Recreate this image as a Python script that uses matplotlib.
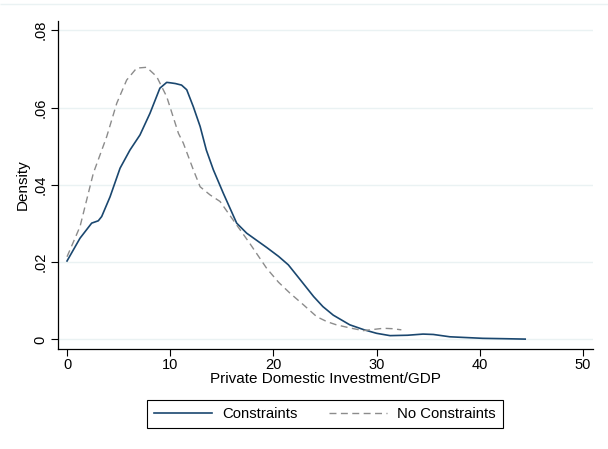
import matplotlib.pyplot as plt
from matplotlib.patches import Rectangle

plt.rcParams['font.family'] = ['Liberation Sans', 'DejaVu Sans']

# Density estimates
x_con = [0.0, 1.26, 2.39, 3.03, 3.36, 4.17, 5.14, 6.1, 7.07, 8.04, 9.0, 9.66,
         9.98, 10.5, 11.1, 11.6, 12.24, 12.9, 13.5, 14.18, 15.15, 16.44, 17.41,
         18.3, 19.35, 20.5, 21.45, 22.5, 23.9, 24.8, 25.8, 27.4, 28.8, 30.0,
         31.3, 33.0, 34.5, 35.5, 37.1, 40.3, 42.5, 44.4]
y_con = [0.0203, 0.0262, 0.0301, 0.0307, 0.0318, 0.0369, 0.0443, 0.049, 0.0529,
         0.0585, 0.065, 0.0665, 0.0664, 0.0662, 0.0658, 0.0646, 0.0602, 0.0551,
         0.049, 0.0439, 0.0378, 0.0301, 0.0275, 0.0258, 0.0238, 0.0215, 0.0193,
         0.0158, 0.0111, 0.0085, 0.0063, 0.0038, 0.0025, 0.0016, 0.001, 0.0011,
         0.0014, 0.0013, 0.0007, 0.0003, 0.0002, 0.0001]

x_nocon = [0.0, 1.26, 2.55, 3.85, 4.82, 5.78, 6.75, 7.72, 8.69, 9.66, 10.8,
           11.27, 12.24, 12.9, 13.86, 14.83, 16.1, 17.7, 19.35, 20.5, 21.6,
           22.9, 24.2, 25.2, 26.1, 27.4, 28.7, 29.7, 30.65, 31.5, 32.4]
y_nocon = [0.0214, 0.0292, 0.043, 0.0525, 0.0611, 0.0671, 0.0702, 0.0704, 0.068,
           0.0628, 0.0533, 0.0508, 0.0439, 0.0395, 0.0374, 0.0357, 0.0309, 0.0249,
           0.0184, 0.0148, 0.012, 0.009, 0.0059, 0.0046, 0.0038, 0.003, 0.0023,
           0.0026, 0.0029, 0.0028, 0.0025]

xticks = [0, 10, 20, 30, 40, 50]
yticks = [0, 0.02, 0.04, 0.06, 0.08]
ytick_labels = ['0', '.02', '.04', '.06', '.08']

fig = plt.figure(figsize=(6.08, 4.49), dpi=100)
ax = fig.add_axes([0.0946, 0.2227, 0.8807, 0.7316])

ax.plot(x_con, y_con, color='#1a476f', lw=1.2, label='Constraints')
ax.plot(x_nocon, y_nocon, color='#8c8c8c', lw=1.0, dashes=(5, 3.2), label='No Constraints')

ax.set_xlim(-0.92, 50.97)
ax.set_ylim(-0.00246, 0.0825)
ax.set_xticks(xticks)
ax.set_yticks(yticks)
ax.set_yticklabels(ytick_labels, rotation=90, va='center')
ax.tick_params(axis='both', length=5, width=0.8, labelsize=10.5, color='black')
ax.tick_params(axis='x', pad=1.5)
ax.tick_params(axis='y', pad=2)
ax.grid(axis='y', color='#eaf2f3', lw=1.0)
ax.set_axisbelow(True)
for s in ['top', 'right']:
    ax.spines[s].set_visible(False)
for s in ['left', 'bottom']:
    ax.spines[s].set_linewidth(0.9)

ax.set_xlabel('Private Domestic Investment/GDP', fontsize=11, labelpad=0)
ax.set_ylabel('Density', fontsize=11, labelpad=3)

leg = fig.legend(loc='center', bbox_to_anchor=(0.5345, 0.078), ncol=2, fontsize=10.7,
                 handlelength=3.9, handletextpad=0.7, columnspacing=2.1,
                 fancybox=False, edgecolor='black', framealpha=1, borderpad=0.45)
leg.get_frame().set_linewidth(0.8)

# faint outer graph-region line at the top
fig.add_artist(Rectangle((0, 0.991), 1, 0.0, transform=fig.transFigure,
                         edgecolor='#eaf2f3', lw=1.0, fill=False))

fig.savefig('out.png', dpi=100)
